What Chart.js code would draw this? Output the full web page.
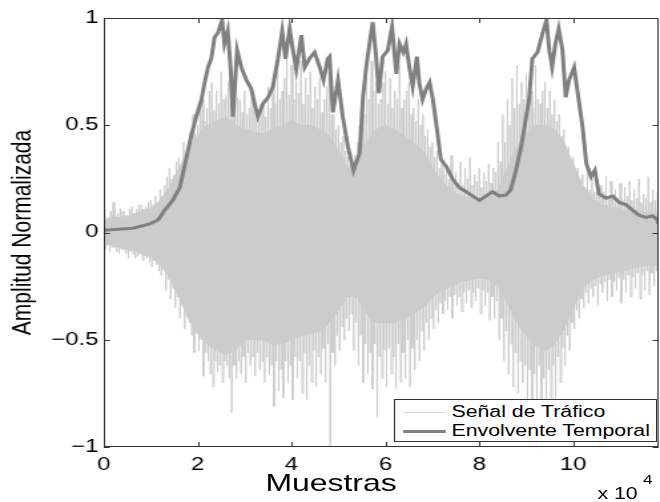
<!DOCTYPE html>
<html>
<head>
<meta charset="utf-8">
<script src="https://cdn.jsdelivr.net/npm/chart.js@4.4.1/dist/chart.umd.min.js"></script>
<style>
  body { margin: 0; background: #fff; overflow: hidden; }
  #wrap {
    position: relative; width: 496px; height: 502px;
    transform: scaleX(1.3306); transform-origin: 0 0;
    font-family: "Liberation Sans", Arial, Helvetica, sans-serif; color: #000;
  }
  #wrap canvas { position: absolute; left: 0; top: 0; }
  .lbl { position: absolute; white-space: nowrap; line-height: 1; }
  #legend {
    position: absolute; left: 295.6px; top: 399.3px; width: 198.3px; height: 42.4px;
    box-sizing: border-box; border: 1px solid #333; background: #fff;
  }
  .sample { position: absolute; left: 6px; width: 32px; }
</style>
</head>
<body>
<div id="wrap">
  <canvas id="signalChart" width="496" height="502"></canvas>
  <div id="legend">
    <div class="sample" style="top: 11.6px; height: 1px; background: #dcdcdc;"></div>
    <div class="sample" style="top: 30.2px; height: 2.5px; background: #808080;"></div>
    <div class="lbl" style="left: 42.7px; top: 4px; font-size: 16px;">Señal de Tráfico</div>
    <div class="lbl" style="left: 42.7px; top: 23px; font-size: 16px;">Envolvente Temporal</div>
  </div>
  <div class="lbl" style="left: 248.8px; top: 470.5px; font-size: 24px; transform: translateX(-50%);">Muestras</div>
  <div class="lbl" style="left: 449px; top: 485.5px; font-size: 16px;">x 10</div>
  <div class="lbl" style="left: 483.2px; top: 472.5px; font-size: 13px;">4</div>
</div>

<script>
// muestras donde se leyó la envolvente
const envX = [0, 6200, 9800, 11600, 13000, 14700, 16200, 17600, 18700, 19700,
  20800, 21500, 22200, 22900, 23600, 24300, 25200, 25700, 26400, 27000,
  27500, 28400, 29300, 30400, 31400, 32800, 33900, 35000, 36000, 37100,
  38000, 38700, 39600, 40300, 41000, 42100, 42800, 43800, 44900, 46000,
  46800, 47700, 48100, 48800, 49900, 50900, 52000, 53200, 54500, 55200,
  55900, 56600, 57300, 58000, 58600, 59400, 60500, 61400, 62300, 63000,
  63800, 64400, 65100, 65800, 66700, 67200, 67900, 68700, 69400, 70100,
  70800, 71800, 72900, 74300, 75700, 77200, 78600, 80000, 81400, 82800,
  84300, 85700, 86700, 87800, 88900, 89600, 90600, 91300, 92400, 93500,
  94300, 94900, 95500, 96200, 96900, 97700, 98400, 99100, 100200, 101100,
  102000, 102800, 103800, 104600, 105500, 107000, 108400, 109800, 111200, 112600,
  114000, 115500, 116900, 117900, 118200];
const envY = [0.01, 0.02, 0.04, 0.06, 0.105, 0.15, 0.21, 0.35, 0.46, 0.54,
  0.62, 0.70, 0.77, 0.81, 0.91, 0.93, 0.99, 0.88, 0.94, 0.77,
  0.54, 0.85, 0.77, 0.71, 0.67, 0.54, 0.60, 0.63, 0.68, 0.81,
  0.94, 0.81, 0.95, 0.85, 0.76, 0.92, 0.77, 0.81, 0.84, 0.77,
  0.71, 0.81, 0.82, 0.56, 0.71, 0.54, 0.40, 0.29, 0.37, 0.63,
  0.77, 0.88, 0.98, 0.82, 0.65, 0.82, 0.85, 0.96, 0.74, 0.88,
  0.84, 0.88, 0.77, 0.68, 0.82, 0.70, 0.62, 0.67, 0.70, 0.62,
  0.51, 0.34, 0.31, 0.25, 0.21, 0.19, 0.17, 0.15, 0.17, 0.19,
  0.17, 0.175, 0.20, 0.29, 0.40, 0.49, 0.62, 0.81, 0.84, 0.93,
  0.99, 0.85, 0.77, 0.88, 0.95, 0.85, 0.63, 0.71, 0.77, 0.63,
  0.49, 0.32, 0.26, 0.29, 0.18, 0.16, 0.17, 0.14, 0.13, 0.105,
  0.08, 0.07, 0.077, 0.06, 0.04];

// nucleo denso de la señal, cada 2000 muestras
const coreStep = 2000;
const coreTop = [0.06, 0.07, 0.07, 0.08, 0.10, 0.11, 0.15, 0.21, 0.30, 0.38,
  0.45, 0.50, 0.52, 0.54, 0.50, 0.48, 0.47, 0.46, 0.48, 0.50,
  0.52, 0.50, 0.50, 0.48, 0.45, 0.38, 0.30, 0.32, 0.42, 0.48,
  0.50, 0.48, 0.45, 0.42, 0.38, 0.30, 0.24, 0.20, 0.17, 0.16,
  0.16, 0.17, 0.20, 0.30, 0.40, 0.46, 0.50, 0.50, 0.48, 0.42,
  0.32, 0.22, 0.16, 0.13, 0.12, 0.11, 0.10, 0.10, 0.09, 0.09];
const coreBottom = [-0.05, -0.06, -0.07, -0.08, -0.10, -0.11, -0.15, -0.21, -0.30, -0.40,
  -0.47, -0.52, -0.55, -0.57, -0.55, -0.50, -0.50, -0.50, -0.52, -0.52,
  -0.50, -0.48, -0.47, -0.46, -0.42, -0.36, -0.30, -0.30, -0.38, -0.42,
  -0.42, -0.42, -0.40, -0.38, -0.35, -0.30, -0.27, -0.25, -0.23, -0.22,
  -0.21, -0.22, -0.25, -0.33, -0.42, -0.48, -0.53, -0.55, -0.52, -0.45,
  -0.35, -0.26, -0.22, -0.20, -0.19, -0.18, -0.17, -0.16, -0.15, -0.15];

// picos de la señal, cada 500 muestras
const peakStep = 500;
const peakHi = [0.08, 0.06, 0.07, 0.10, 0.14, 0.08, 0.09, 0.11, 0.10, 0.08,
  0.08, 0.11, 0.12, 0.09, 0.11, 0.13, 0.13, 0.11, 0.12, 0.14,
  0.15, 0.13, 0.17, 0.14, 0.20, 0.17, 0.22, 0.26, 0.30, 0.25,
  0.27, 0.33, 0.35, 0.31, 0.42, 0.37, 0.40, 0.47, 0.55, 0.46,
  0.50, 0.58, 0.62, 0.52, 0.58, 0.66, 0.70, 0.57, 0.66, 0.60,
  0.75, 0.62, 0.64, 0.70, 0.72, 0.58, 0.80, 0.63, 0.62, 0.56,
  0.66, 0.55, 0.58, 0.63, 0.60, 0.52, 0.55, 0.60, 0.62, 0.54,
  0.68, 0.58, 0.70, 0.60, 0.75, 0.62, 0.66, 0.72, 0.82, 0.64,
  0.78, 0.62, 0.70, 0.65, 0.80, 0.60, 0.72, 0.64, 0.75, 0.58,
  0.68, 0.62, 0.72, 0.56, 0.62, 0.68, 0.78, 0.55, 0.55, 0.48,
  0.50, 0.42, 0.45, 0.38, 0.35, 0.32, 0.30, 0.36, 0.42, 0.50,
  0.60, 0.55, 0.72, 0.62, 0.80, 0.66, 0.70, 0.60, 0.62, 0.70,
  0.75, 0.60, 0.72, 0.58, 0.66, 0.62, 0.78, 0.58, 0.62, 0.66,
  0.70, 0.55, 0.58, 0.52, 0.62, 0.50, 0.55, 0.45, 0.48, 0.40,
  0.42, 0.35, 0.38, 0.30, 0.34, 0.27, 0.30, 0.25, 0.36, 0.24,
  0.28, 0.23, 0.33, 0.22, 0.30, 0.25, 0.35, 0.22, 0.27, 0.24,
  0.30, 0.21, 0.28, 0.24, 0.32, 0.23, 0.30, 0.28, 0.42, 0.33,
  0.55, 0.42, 0.62, 0.50, 0.72, 0.58, 0.78, 0.60, 0.70, 0.62,
  0.74, 0.60, 0.66, 0.58, 0.78, 0.62, 0.60, 0.66, 0.70, 0.58,
  0.66, 0.55, 0.62, 0.52, 0.55, 0.45, 0.48, 0.40, 0.40, 0.34,
  0.35, 0.28, 0.30, 0.24, 0.27, 0.21, 0.30, 0.20, 0.25, 0.19,
  0.28, 0.18, 0.22, 0.19, 0.26, 0.17, 0.24, 0.18, 0.20, 0.16,
  0.23, 0.15, 0.21, 0.17, 0.24, 0.15, 0.20, 0.16, 0.25, 0.14,
  0.18, 0.16, 0.26, 0.14, 0.20, 0.15, 0.19];
const peakLo = [-0.08, -0.06, -0.09, -0.07, -0.07, -0.09, -0.10, -0.08, -0.08, -0.10,
  -0.12, -0.09, -0.10, -0.12, -0.11, -0.10, -0.13, -0.11, -0.12, -0.14,
  -0.16, -0.13, -0.15, -0.18, -0.20, -0.17, -0.27, -0.22, -0.31, -0.26,
  -0.35, -0.30, -0.40, -0.34, -0.45, -0.38, -0.42, -0.48, -0.56, -0.47,
  -0.55, -0.50, -0.67, -0.56, -0.60, -0.66, -0.72, -0.60, -0.65, -0.62,
  -0.70, -0.60, -0.62, -0.68, -0.84, -0.62, -0.68, -0.60, -0.66, -0.58,
  -0.70, -0.56, -0.62, -0.58, -0.67, -0.56, -0.64, -0.60, -0.70, -0.58,
  -0.66, -0.62, -0.81, -0.60, -0.74, -0.64, -0.77, -0.60, -0.70, -0.62,
  -0.78, -0.58, -0.68, -0.60, -0.75, -0.56, -0.78, -0.62, -0.70, -0.55,
  -0.72, -0.58, -0.66, -0.54, -0.70, -0.52, -1.0, -0.56, -0.62, -0.48,
  -0.55, -0.44, -0.50, -0.40, -0.46, -0.38, -0.55, -0.42, -0.62, -0.48,
  -0.70, -0.52, -0.66, -0.56, -0.73, -0.52, -0.86, -0.58, -0.68, -0.55,
  -0.72, -0.54, -0.66, -0.58, -0.73, -0.52, -0.70, -0.56, -0.68, -0.50,
  -0.72, -0.54, -0.64, -0.50, -0.60, -0.46, -0.55, -0.42, -0.50, -0.40,
  -0.45, -0.36, -0.42, -0.33, -0.38, -0.32, -0.36, -0.30, -0.40, -0.29,
  -0.34, -0.30, -0.37, -0.28, -0.33, -0.27, -0.35, -0.28, -0.32, -0.26,
  -0.38, -0.27, -0.34, -0.28, -0.41, -0.30, -0.40, -0.32, -0.50, -0.40,
  -0.60, -0.46, -0.66, -0.52, -0.72, -0.56, -0.75, -0.60, -0.70, -0.62,
  -0.85, -0.64, -0.78, -0.66, -0.92, -0.62, -0.80, -0.68, -0.88, -0.64,
  -0.78, -0.62, -0.80, -0.58, -0.70, -0.54, -0.62, -0.48, -0.55, -0.42,
  -0.45, -0.36, -0.40, -0.31, -0.35, -0.28, -0.33, -0.26, -0.30, -0.25,
  -0.34, -0.24, -0.28, -0.23, -0.32, -0.22, -0.30, -0.23, -0.27, -0.21,
  -0.33, -0.22, -0.28, -0.20, -0.30, -0.21, -0.26, -0.19, -0.31, -0.20,
  -0.27, -0.18, -0.29, -0.19, -0.25, -0.18, -0.28];

const xMax = 118200;
const xTicks = [0, 20000, 40000, 60000, 80000, 100000];
const yTicks = [1, 0.5, 0, -0.5, -1];

const envelope = envX.map((x, i) => ({ x: x, y: envY[i] }));
const coreUp = coreTop.map((v, i) => ({ x: i * coreStep, y: v }));
const coreDown = coreBottom.map((v, i) => ({ x: i * coreStep, y: v }));
const peaks = [];
for (let i = 0; i < peakHi.length; i++) {
  peaks.push({ x: i * peakStep, y: peakHi[i] });
  peaks.push({ x: i * peakStep + peakStep / 2, y: peakLo[i] });
}

// caja y marcas hacia dentro, estilo matlab
const matlabFrame = {
  id: "matlabFrame",
  afterDatasetsDraw(chart) {
    const { ctx, chartArea: a, scales } = chart;
    ctx.save();
    ctx.strokeStyle = "#333";
    ctx.lineWidth = 1;
    ctx.strokeRect(a.left + 0.5, a.top + 0.5, a.right - a.left - 1, a.bottom - a.top - 1);
    ctx.beginPath();
    scales.x.ticks.forEach((t) => {
      const px = Math.round(scales.x.getPixelForValue(t.value)) + 0.5;
      ctx.moveTo(px, a.bottom);
      ctx.lineTo(px, a.bottom - 5);
      ctx.moveTo(px, a.top);
      ctx.lineTo(px, a.top + 5);
    });
    scales.y.ticks.forEach((t) => {
      const py = Math.round(scales.y.getPixelForValue(t.value)) + 0.5;
      ctx.moveTo(a.left, py);
      ctx.lineTo(a.left + 4.5, py);
      ctx.moveTo(a.right, py);
      ctx.lineTo(a.right - 4.5, py);
    });
    ctx.stroke();
    ctx.restore();
  },
};

const tickFont = { family: "'Liberation Sans', Arial, Helvetica", size: 18 };

const ctx = document.getElementById("signalChart").getContext("2d");
const signalChart = new Chart(ctx, {
  type: "line",
  data: {
    datasets: [
      {
        label: "Envolvente Temporal",
        data: envelope,
        borderColor: "#808080",
        borderWidth: 3,
        order: 0,
      },
      {
        label: "coreTop",
        data: coreUp,
        borderColor: "#cccccc",
        backgroundColor: "#cccccc",
        borderWidth: 1,
        fill: "+1",
        order: 1,
      },
      {
        label: "coreBottom",
        data: coreDown,
        borderColor: "#cccccc",
        borderWidth: 1,
        fill: false,
        order: 2,
      },
      {
        label: "Señal de Tráfico",
        data: peaks,
        borderColor: "#cccccc",
        borderWidth: 1,
        fill: false,
        order: 3,
      },
    ],
  },
  options: {
    responsive: false,
    devicePixelRatio: 1,
    animation: false,
    layout: { padding: { top: 18, right: 1, bottom: 0, left: 0 } },
    elements: { point: { radius: 0 }, line: { tension: 0 } },
    datasets: { line: { clip: 0 } },
    plugins: { legend: { display: false }, tooltip: { enabled: false } },
    scales: {
      x: {
        type: "linear",
        min: 0,
        max: xMax,
        grid: { display: false, drawTicks: false },
        border: { display: false },
        afterBuildTicks: (scale) => { scale.ticks = xTicks.map((v) => ({ value: v })); },
        ticks: {
          padding: 7,
          color: "#000",
          font: tickFont,
          callback: (v) => String(v / 10000),
        },
        afterFit: (scale) => { scale.height = 55; },
      },
      y: {
        min: -1,
        max: 1,
        grid: { display: false, drawTicks: false },
        border: { display: false },
        afterBuildTicks: (scale) => { scale.ticks = yTicks.map((v) => ({ value: v })); },
        ticks: {
          padding: 4,
          color: "#000",
          font: tickFont,
          callback: (v) => (v < 0 ? "\u2212" + String(-v) : String(v)),
        },
        title: {
          display: true,
          text: "Amplitud Normalizada",
          color: "#000",
          padding: { top: 5, bottom: 0 },
          font: { family: "'Liberation Sans', Arial, Helvetica", size: 21 },
        },
        afterFit: (scale) => { scale.width = 78; },
      },
    },
  },
  plugins: [matlabFrame],
});
</script>
</body>
</html>
